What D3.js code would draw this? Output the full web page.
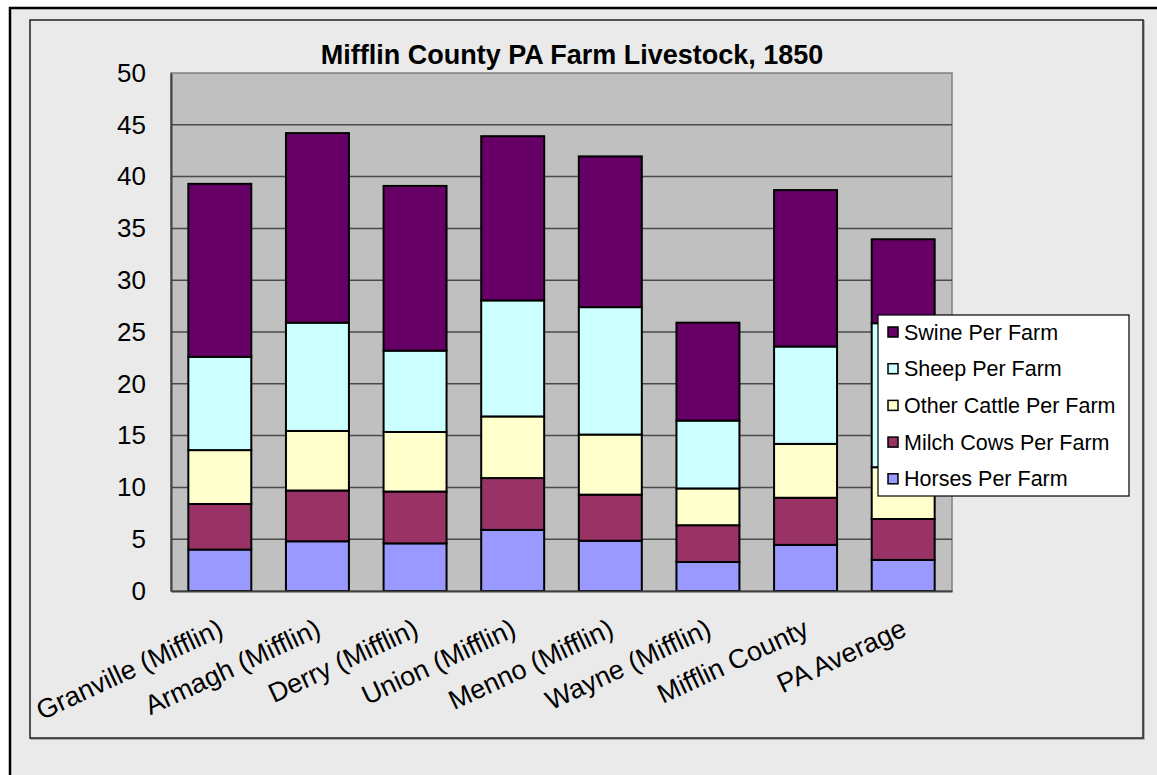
<!DOCTYPE html>
<html>
<head>
<meta charset="utf-8">
<script src="https://cdn.jsdelivr.net/npm/d3@7"></script>
<style>
  html, body { margin: 0; padding: 0; background: #ffffff; }
  svg { display: block; font-family: "Liberation Sans", Arial, sans-serif; }
</style>
</head>
<body>
<svg id="chart" width="1157" height="775"></svg>
<script>
// Average livestock per farm, Mifflin County townships, 1850
const categories = [
  "Granville (Mifflin)", "Armagh (Mifflin)", "Derry (Mifflin)", "Union (Mifflin)",
  "Menno (Mifflin)", "Wayne (Mifflin)", "Mifflin County", "PA Average"
];
const horses      = [4.0, 4.8, 4.6, 5.9, 4.85, 2.8, 4.45, 3.0];
const milchCows   = [4.4, 4.9, 5.0, 5.0, 4.45, 3.55, 4.55, 3.95];
const otherCattle = [5.2, 5.75, 5.75, 5.95, 5.8, 3.55, 5.2, 5.0];
const sheep       = [9.0, 10.45, 7.85, 11.2, 12.3, 6.55, 9.4, 13.9];
const swine       = [16.7, 18.3, 15.9, 15.85, 14.55, 9.45, 15.1, 8.1];

const seriesNames = ["Horses Per Farm", "Milch Cows Per Farm", "Other Cattle Per Farm",
                     "Sheep Per Farm", "Swine Per Farm"];
const seriesColors = ["#9999ff", "#993366", "#ffffcc", "#ccffff", "#660066"];
const yTicks = [0, 5, 10, 15, 20, 25, 30, 35, 40, 45, 50];
const title = "Mifflin County PA Farm Livestock, 1850";

const seriesValues = [horses, milchCows, otherCattle, sheep, swine];
const rows = categories.map((c, i) => {
  const r = { category: c };
  seriesNames.forEach((s, k) => { r[s] = seriesValues[k][i]; });
  return r;
});
const stacked = d3.stack().keys(seriesNames)(rows);

const svg = d3.select("#chart");

// outer and inner frames
svg.append("rect").attr("x", 10).attr("y", 8).attr("width", 1160).attr("height", 780)
  .attr("fill", "#eaeaea").attr("stroke", "#000").attr("stroke-width", 2.5);
svg.append("rect").attr("x", 31).attr("y", 21).attr("width", 1113).attr("height", 718)
  .attr("fill", "none").attr("stroke", "#999").attr("stroke-width", 1.5);
svg.append("rect").attr("x", 30).attr("y", 20).attr("width", 1113).attr("height", 718)
  .attr("fill", "#eaeaea").attr("stroke", "#222").attr("stroke-width", 1.5);

const plot = { left: 171, top: 73, right: 952, bottom: 591 };

const x = d3.scaleBand().domain(categories)
  .range([plot.left, plot.right]).paddingInner(0.355).paddingOuter(0.1775);
const y = d3.scaleLinear().domain([0, 50]).range([plot.bottom, plot.top]);

// plot area
svg.append("rect").attr("x", plot.left).attr("y", plot.top)
  .attr("width", plot.right - plot.left).attr("height", plot.bottom - plot.top)
  .attr("fill", "#c0c0c0").attr("stroke", "#808080").attr("stroke-width", 1.5);

// gridlines
svg.append("g").selectAll("line").data(yTicks.filter(t => t > 0 && t < 50)).join("line")
  .attr("x1", plot.left).attr("x2", plot.right)
  .attr("y1", d => y(d)).attr("y2", d => y(d))
  .attr("stroke", "#4a4a4a").attr("stroke-width", 1.5);

// y axis
const yAxis = svg.append("g").attr("transform", `translate(${plot.left},0)`)
  .call(d3.axisLeft(y).tickValues(yTicks).tickSize(0).tickPadding(25));
yAxis.select(".domain").attr("stroke", "#404040").attr("stroke-width", 2);
yAxis.selectAll("text").attr("font-size", 26).attr("fill", "#000")
  .attr("font-family", "Liberation Sans, Arial, sans-serif");

// stacked bars
svg.append("g").selectAll("g").data(stacked).join("g")
  .attr("fill", (d, i) => seriesColors[i])
  .selectAll("rect").data(d => d).join("rect")
  .attr("x", d => x(d.data.category))
  .attr("width", x.bandwidth())
  .attr("y", d => y(d[1]))
  .attr("height", d => y(d[0]) - y(d[1]))
  .attr("stroke", "#000").attr("stroke-width", 2);

// x axis
const xAxis = svg.append("g").attr("transform", `translate(0,${plot.bottom})`)
  .call(d3.axisBottom(x).tickSize(0).tickPadding(0));
xAxis.select(".domain").attr("stroke", "#404040").attr("stroke-width", 2);
xAxis.selectAll("text")
  .attr("font-size", 27).attr("fill", "#000")
  .attr("font-family", "Liberation Sans, Arial, sans-serif")
  .attr("text-anchor", "end")
  .attr("dy", null).attr("y", 0)
  .attr("transform", "translate(5,44) rotate(-25)");

// title
svg.append("text").attr("x", 572).attr("y", 64).attr("text-anchor", "middle")
  .attr("font-size", 27).attr("font-weight", "bold").text(title);

// legend
const legend = svg.append("g").attr("transform", "translate(878,315)");
legend.append("rect").attr("width", 251).attr("height", 181)
  .attr("fill", "#fff").attr("stroke", "#000").attr("stroke-width", 1.2);
const legendOrder = seriesNames.map((n, i) => i).reverse();
const items = legend.selectAll("g.item").data(legendOrder).join("g")
  .attr("class", "item")
  .attr("transform", (d, i) => `translate(10,${17 + i * 36.7})`);
items.append("rect").attr("x", 0).attr("y", -5).attr("width", 10).attr("height", 10)
  .attr("fill", d => seriesColors[d]).attr("stroke", "#000").attr("stroke-width", 1.5);
items.append("text").attr("x", 16).attr("y", 7.5).attr("font-size", 21.5)
  .text(d => seriesNames[d]);
</script>
</body>
</html>
